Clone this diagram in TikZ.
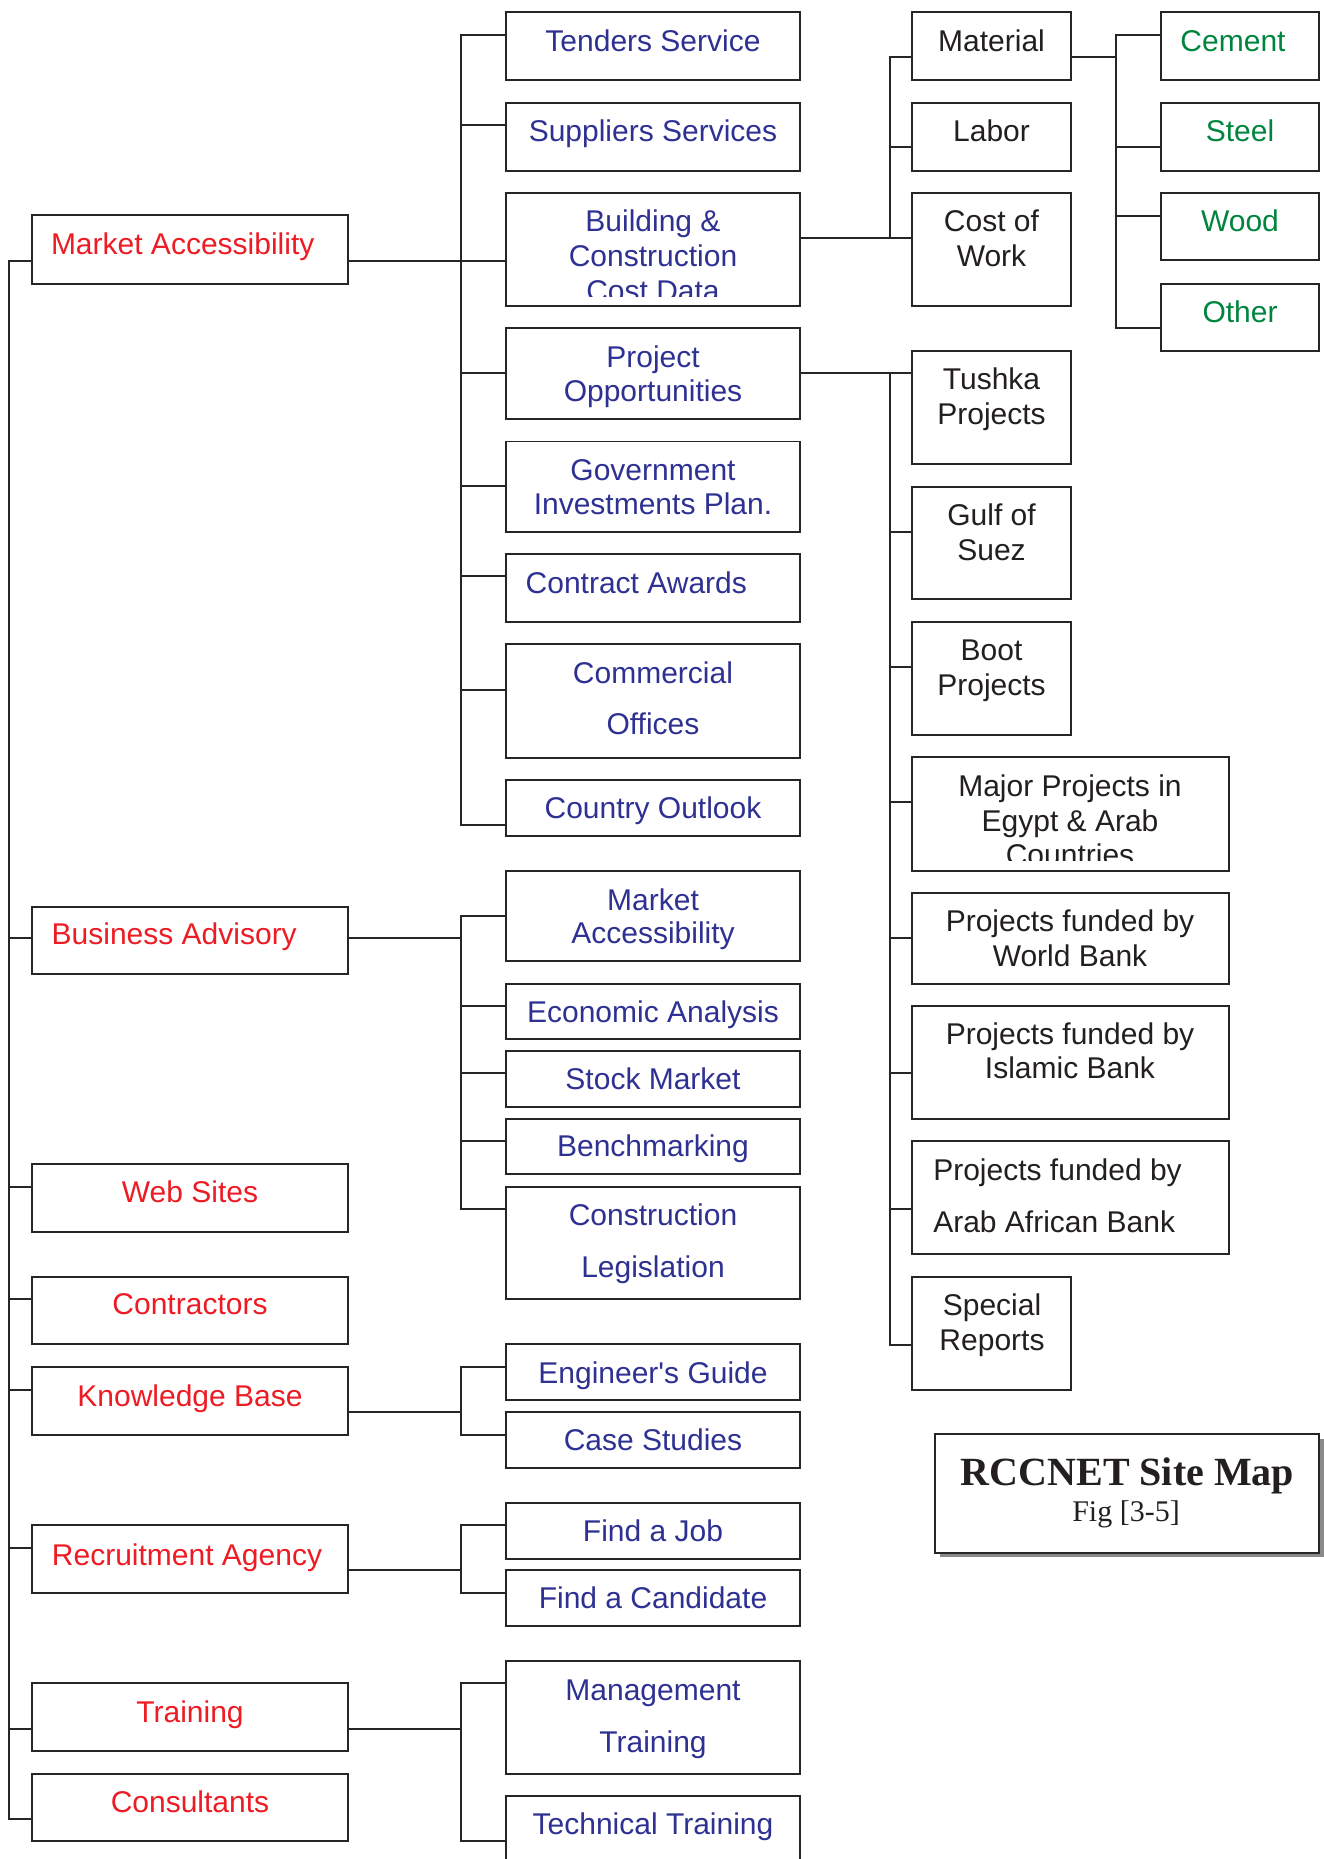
\documentclass[tikz,border=0pt]{standalone}
\usepackage{fontspec}
\setmainfont{Liberation Sans}[Ligatures=TeXOff]
\newfontfamily\titlefont{Liberation Serif}
\usetikzlibrary{fit,shadows}

\definecolor{mapred}{HTML}{ED1C24}
\definecolor{mapnavy}{HTML}{2E3192}
\definecolor{mapgreen}{HTML}{00853F}
\definecolor{mapink}{HTML}{231F20}
\definecolor{mapline}{HTML}{262626}
\definecolor{mapshadow}{HTML}{8A8A8C}

\tikzset{
  mapframe/.style={draw=mapline, line width=0.75pt, inner sep=0pt, outer sep=0pt, fill=white},
  link/.style={draw=mapline, line width=0.75pt},
  lbl/.style={inner sep=0pt, outer sep=0pt, text height=8.59pt, text depth=0pt,
              font=\fontsize{12}{14}\selectfont},
  lblred/.style={lbl, text=mapred},
  lblnavy/.style={lbl, text=mapnavy},
  lblgreen/.style={lbl, text=mapgreen},
  lblink/.style={lbl, text=mapink},
}

% box from its top-left and bottom-right corners
\newcommand\mapbox[6][]{%
  \coordinate (#2-a) at (#3,#4);
  \coordinate (#2-b) at (#5,#6);
  \node[mapframe, #1, fit=(#2-a)(#2-b)] (#2) {};}
% branch from a vertical spine at x=#1 into node #2 at height #3
\newcommand\tap[3]{\draw[link] (#1,#3) -- (#2.west |- 0,#3);}

\begin{document}
\begin{tikzpicture}[x=0.4pt, y=-0.4pt]
\useasboundingbox (0,0) rectangle (1324,1859);
\fill[white] (0,0) rectangle (1324,1859);
\clip (0,0) rectangle (1324,1859);

% ---------- top level ----------
\mapbox{ma}{31.7}{215}{348.3}{283.7}
\mapbox{ba}{31.7}{906.7}{348.3}{974.3}
\mapbox{web}{31.7}{1164}{348.3}{1231.7}
\mapbox{contr}{31.7}{1276.7}{348.3}{1344.3}
\mapbox{kb}{31.7}{1367.3}{348.3}{1435}
\mapbox{ra}{31.7}{1525.3}{348.3}{1593}
\mapbox{train}{31.7}{1683.3}{348.3}{1750.7}
\mapbox{cons}{31.7}{1773.7}{348.3}{1841.3}

% ---------- second level ----------
\mapbox{tend}{505.7}{12.3}{800}{80.3}
\mapbox{supp}{505.7}{103}{800}{170.7}
\mapbox{bcc}{505.7}{192.7}{800}{306}
\mapbox{popp}{505.7}{328.3}{800}{419}
\mapbox{gov}{505.7}{441.5}{800}{531.8}
\mapbox{cawd}{505.7}{554.3}{800}{622.2}
\mapbox{comm}{505.7}{644.3}{800}{757.7}
\mapbox{cout}{505.7}{780}{800}{836}
\mapbox{bma}{505.7}{870.7}{800}{960.7}
\mapbox{econ}{505.7}{983.7}{800}{1039}
\mapbox{stock}{505.7}{1051}{800}{1107}
\mapbox{bench}{505.7}{1119}{800}{1174.3}
\mapbox{clegis}{505.7}{1186.7}{800}{1299.3}
\mapbox{eng}{505.7}{1344.3}{800}{1400.3}
\mapbox{cases}{505.7}{1412.3}{800}{1468}
\mapbox{job}{505.7}{1502.7}{800}{1558.7}
\mapbox{cand}{505.7}{1570.3}{800}{1626}
\mapbox{mgmt}{505.7}{1661}{800}{1773.7}
\mapbox{tech}{505.7}{1795.7}{800}{1900}

% ---------- third level ----------
\mapbox{mat}{912}{12.3}{1071}{80.3}
\mapbox{lab}{912}{103}{1071}{170.7}
\mapbox{cow}{912}{192.7}{1071}{306}
\mapbox{tush}{912}{351}{1071}{464.3}
\mapbox{gulf}{912}{486.7}{1071}{599.3}
\mapbox{boot}{912}{622}{1071}{735}
\mapbox{major}{912}{757.3}{1228.7}{870.7}
\mapbox{wb}{912}{893}{1228.7}{983.7}
\mapbox{isl}{912}{1006}{1228.7}{1119}
\mapbox{aab}{912}{1141.3}{1228.7}{1254.3}
\mapbox{spec}{912}{1276.7}{1071}{1389.7}

% ---------- materials ----------
\mapbox{cem}{1160.7}{12.3}{1318.7}{80.3}
\mapbox{steel}{1160.7}{103}{1318.7}{170.7}
\mapbox{wood}{1160.7}{192.7}{1318.7}{260.3}
\mapbox{other}{1160.7}{283.7}{1318.7}{351}

% ---------- title ----------
\mapbox[drop shadow={shadow xshift=1.8pt, shadow yshift=-1.8pt, fill=mapshadow, opacity=1}]{title}{935}{1434.3}{1319}{1552.7}

% ---------- connectors ----------
% main spine
\draw[link] (ma.west |- 0,260.7) -- (9,260.7) -- (9,1819) -- (cons.west |- 0,1819);
\tap{9}{ba}{938.3}
\tap{9}{web}{1186.7}
\tap{9}{contr}{1299}
\tap{9}{kb}{1389.7}
\tap{9}{ra}{1547.7}
\tap{9}{train}{1728.7}

% Market Accessibility
\draw[link] (ma.east |- 0,260.7) -- (bcc.west |- 0,260.7);
\draw[link] (tend.west |- 0,34.7) -- (461,34.7) -- (461,825) -- (cout.west |- 0,825);
\tap{461}{supp}{125.3}
\tap{461}{popp}{373.3}
\tap{461}{gov}{486.3}
\tap{461}{cawd}{576.3}
\tap{461}{comm}{689.7}

% cost data
\draw[link] (bcc.east |- 0,238.3) -- (cow.west |- 0,238.3);
\draw[link] (mat.west |- 0,57.3) -- (890,57.3) -- (890,238.3);
\tap{890}{lab}{147.3}
\draw[link] (mat.east |- 0,57.3) -- (1115.7,57.3);
\draw[link] (cem.west |- 0,34.7) -- (1115.7,34.7) -- (1115.7,328.3) -- (other.west |- 0,328.3);
\tap{1115.7}{steel}{147.3}
\tap{1115.7}{wood}{215.7}

% project opportunities
\draw[link] (popp.east |- 0,373.3) -- (tush.west |- 0,373.3);
\draw[link] (890,373.3) -- (890,1345) -- (spec.west |- 0,1345);
\tap{890}{gulf}{531.7}
\tap{890}{boot}{667.3}
\tap{890}{major}{802.3}
\tap{890}{wb}{938}
\tap{890}{isl}{1073.3}
\tap{890}{aab}{1209}

% Business Advisory
\draw[link] (ba.east |- 0,938.3) -- (461,938.3);
\draw[link] (bma.west |- 0,915.7) -- (461,915.7) -- (461,1209) -- (clegis.west |- 0,1209);
\tap{461}{econ}{1005.7}
\tap{461}{stock}{1073.3}
\tap{461}{bench}{1141.3}

% Knowledge Base
\draw[link] (kb.east |- 0,1412.3) -- (461,1412.3);
\draw[link] (eng.west |- 0,1367.3) -- (461,1367.3) -- (461,1435) -- (cases.west |- 0,1435);

% Recruitment Agency
\draw[link] (ra.east |- 0,1570) -- (461,1570);
\draw[link] (job.west |- 0,1525.3) -- (461,1525.3) -- (461,1592.7) -- (cand.west |- 0,1592.7);

% Training
\draw[link] (train.east |- 0,1728.7) -- (461,1728.7);
\draw[link] (mgmt.west |- 0,1683.3) -- (461,1683.3) -- (461,1841.3) -- (tech.west |- 0,1841.3);

% ---------- labels: top level ----------
\node[lblred, anchor=west] (ma-t) at (51,243.5) {Market Accessibility};
\node[lblred, anchor=west] (ba-t) at (51.7,934) {Business Advisory};
\node[lblred] (web-t) at (190,1191.5) {Web Sites};
\node[lblred] (contr-t) at (190,1304) {Contractors};
\node[lblred] (kb-t) at (190,1396) {Knowledge Base};
\node[lblred] (ra-t) at (187,1555) {Recruitment Agency};
\node[lblred] (train-t) at (190,1711.7) {Training};
\node[lblred] (cons-t) at (190,1801.7) {Consultants};

% ---------- labels: second level ----------
\node[lblnavy] (tend-t) at (653,40.5) {Tenders Service};
\node[lblnavy] (supp-t) at (653,130.5) {Suppliers Services};
\node[lblnavy] (bcc-t1) at (653,220.3) {Building \&};
\node[lblnavy] (bcc-t2) at (653,255.3) {Construction};
\begin{scope}
  \clip (505.7,192.7) rectangle (800,296);
  \node[lblnavy] (bcc-t3) at (653,290.3) {Cost Data};
\end{scope}
\node[lblnavy] (popp-t1) at (653,356.8) {Project};
\node[lblnavy] (popp-t2) at (653,391.1) {Opportunities};
\node[lblnavy] (gov-t1) at (653,470) {Government};
\node[lblnavy] (gov-t2) at (653,503.3) {Investments Plan.};
\node[lblnavy] (cawd-t) at (636.3,582.4) {Contract Awards};
\node[lblnavy] (comm-t1) at (653,672.4) {Commercial};
\node[lblnavy] (comm-t2) at (653,724.2) {Offices};
\node[lblnavy] (cout-t) at (653,807.5) {Country Outlook};
\node[lblnavy] (bma-t1) at (653,899.3) {Market};
\node[lblnavy] (bma-t2) at (653,933) {Accessibility};
\node[lblnavy] (econ-t) at (653,1011.5) {Economic Analysis};
\node[lblnavy] (stock-t) at (653,1078.3) {Stock Market};
\node[lblnavy] (bench-t) at (653,1146) {Benchmarking};
\node[lblnavy] (clegis-t1) at (653,1215.2) {Construction};
\node[lblnavy] (clegis-t2) at (653,1266.3) {Legislation};
\node[lblnavy] (eng-t) at (653,1372.5) {Engineer's Guide};
\node[lblnavy] (cases-t) at (653,1440) {Case Studies};
\node[lblnavy] (job-t) at (653,1530.3) {Find a Job};
\node[lblnavy] (cand-t) at (653,1598.2) {Find a Candidate};
\node[lblnavy] (mgmt-t1) at (653,1689.3) {Management};
\node[lblnavy] (mgmt-t2) at (653,1741.7) {Training};
\node[lblnavy] (tech-t) at (653,1823.7) {Technical Training};

% ---------- labels: third level ----------
\node[lblink] (mat-t) at (991.5,40.5) {Material};
\node[lblink] (lab-t) at (991.5,130.5) {Labor};
\node[lblink] (cow-t1) at (991.5,220.3) {Cost of};
\node[lblink] (cow-t2) at (991.5,255.3) {Work};
\node[lblink] (tush-t1) at (991.5,378.8) {Tushka};
\node[lblink] (tush-t2) at (991.5,413.8) {Projects};
\node[lblink] (gulf-t1) at (991.5,514.5) {Gulf of};
\node[lblink] (gulf-t2) at (991.5,549.5) {Suez};
\node[lblink] (boot-t1) at (991.5,649.7) {Boot};
\node[lblink] (boot-t2) at (991.5,684.7) {Projects};
\node[lblink] (major-t1) at (1070,786) {Major Projects in};
\node[lblink] (major-t2) at (1070,820.7) {Egypt \& Arab};
\begin{scope}
  \clip (912,757.3) rectangle (1228.7,860);
  \node[lblink] (major-t3) at (1070,854.7) {Countries};
\end{scope}
\node[lblink] (wb-t1) at (1070,920.5) {Projects funded by};
\node[lblink] (wb-t2) at (1070,955.3) {World Bank};
\node[lblink] (isl-t1) at (1070,1033.3) {Projects funded by};
\node[lblink] (isl-t2) at (1070,1068.2) {Islamic Bank};
\node[lblink, anchor=west] (aab-t1) at (933.3,1169.7) {Projects funded by};
\node[lblink, anchor=west] (aab-t2) at (933.3,1221.3) {Arab African Bank};
\node[lblink] (spec-t1) at (992,1305) {Special};
\node[lblink] (spec-t2) at (992,1340) {Reports};

% ---------- labels: materials ----------
\node[lblgreen] (cem-t) at (1233,40.5) {Cement};
\node[lblgreen] (steel-t) at (1240,130.5) {Steel};
\node[lblgreen] (wood-t) at (1240,220.3) {Wood};
\node[lblgreen] (other-t) at (1240,312.2) {Other};

% ---------- title ----------
\node[inner sep=0pt, text height=10.6pt, text depth=0pt, text=mapink,
      font=\titlefont\bfseries\fontsize{16}{18}\selectfont] (title-t1) at (1127.5,1472) {RCCNET Site Map};
\node[inner sep=0pt, text height=7.94pt, text depth=0pt, text=mapink,
      font=\titlefont\fontsize{12}{14}\selectfont] (title-t2) at (1126,1512) {Fig [3-5]};
\end{tikzpicture}
\end{document}
